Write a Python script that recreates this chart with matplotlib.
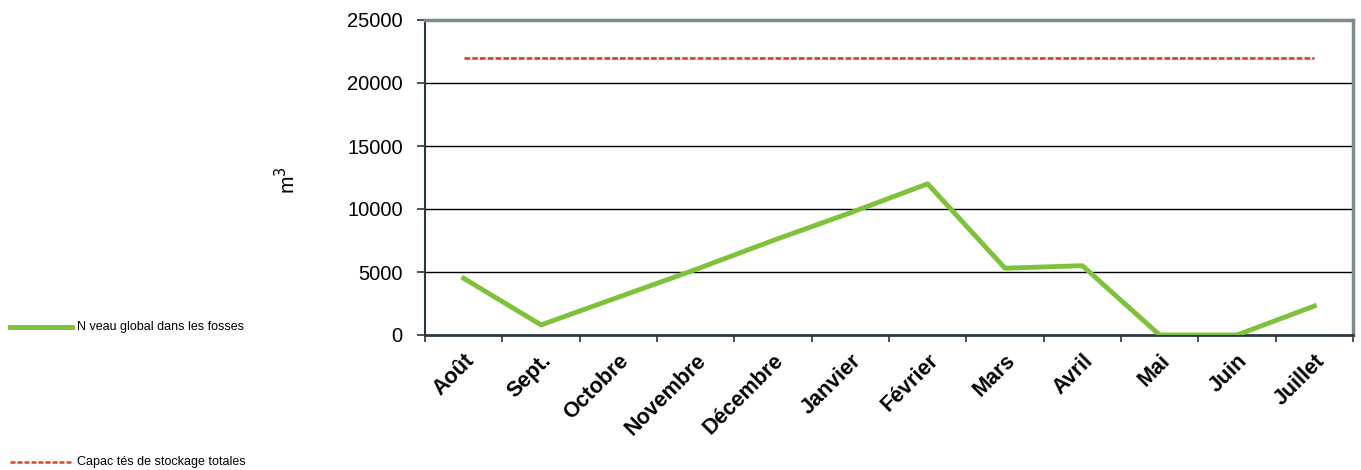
import matplotlib
matplotlib.use("Agg")
import matplotlib.pyplot as plt
from matplotlib.lines import Line2D

plt.rcParams['font.family'] = ['Liberation Sans', 'DejaVu Sans']

months = ["Août", "Sept.", "Octobre", "Novembre", "Décembre", "Janvier",
          "Février", "Mars", "Avril", "Mai", "Juin", "Juillet"]
niveau = [4500, 800, 3000, 5200, 7500, 9700, 12000, 5300, 5500, 0, 0, 2300]
capacite = [22000] * 12
yticks = [0, 5000, 10000, 15000, 20000, 25000]

fig = plt.figure(figsize=(13.61, 4.70), dpi=100)
ax = fig.add_axes([425/1361, 1 - 335/470, (1353 - 425)/1361, (335 - 20)/470])

x = list(range(len(months)))
ax.plot(x, capacite, color="#d9472b", linestyle=(0, (2, 0.8)), linewidth=2.0, zorder=3)
ax.plot(x, niveau, color="#7dc23a", linewidth=3.5, zorder=4)

ax.set_xlim(-0.5, len(months) - 0.5)
ax.set_ylim(0, 25000)
ax.set_yticks(yticks)
ax.set_yticklabels([str(v) for v in yticks], fontsize=14.5)
for v in yticks[1:-1]:
    ax.axhline(v, color="black", linewidth=1.0, zorder=1)

ax.set_xticks([i - 0.5 for i in range(len(months) + 1)])
ax.set_xticklabels([])
ax.set_xticks(x, minor=True)
ax.set_xticklabels(months, minor=True, rotation=45, ha="right", rotation_mode="anchor",
                   fontsize=15.5, fontweight="bold")
ax.tick_params(axis="x", which="minor", length=0, pad=11)
ax.tick_params(axis="x", which="major", length=5, width=1.2, direction="out", color="#333333")
ax.tick_params(axis="y", length=6, width=1.2, color="#333333", pad=10)

ax.spines["left"].set_color("#2b3a42")
ax.spines["left"].set_linewidth(1.5)
ax.spines["bottom"].set_color("#2b3a42")
ax.spines["bottom"].set_linewidth(2)
ax.spines["top"].set_color("#7a8a8e")
ax.spines["top"].set_linewidth(2.5)
ax.spines["right"].set_color("#7a8a8e")
ax.spines["right"].set_linewidth(2.5)

fig.text(287/1361, 1 - 180/470, "m$^3$", rotation=90, fontsize=15, ha="center", va="center")

# legend entries at far left
fig.add_artist(Line2D([10/1361, 72/1361], [1 - 327/470, 1 - 327/470], color="#7dc23a", linewidth=3.5))
fig.text(77/1361, 1 - 327/470, "N veau global dans les fosses", fontsize=9, va="center")
fig.add_artist(Line2D([10/1361, 72/1361], [1 - 462/470, 1 - 462/470], color="#d9472b",
                      linestyle=(0, (2, 0.8)), linewidth=1.8))
fig.text(77/1361, 1 - 462/470, "Capac tés de stockage totales", fontsize=9, va="center")

fig.savefig("out.png", dpi=100)
